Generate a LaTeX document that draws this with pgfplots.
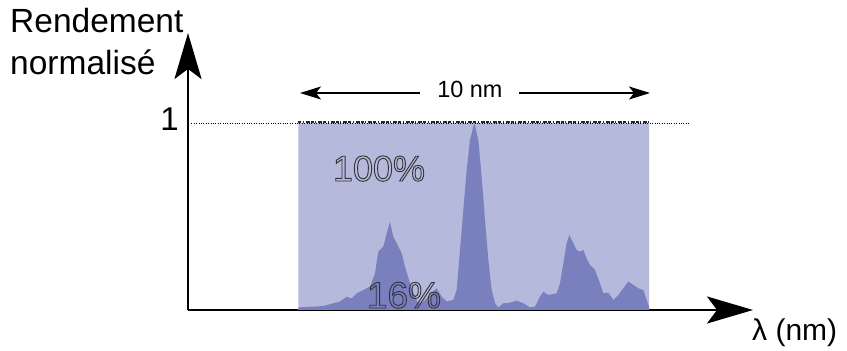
\documentclass[border=0pt]{standalone}
\usepackage{pgfplots}
\pgfplotsset{compat=1.18}
\usepackage{fontspec}
\setmainfont{Liberation Sans}
\usetikzlibrary{arrows.meta}
\definecolor{lightband}{RGB}{181,185,219}
\definecolor{darkspec}{RGB}{122,127,190}
\definecolor{outl}{RGB}{50,50,55}
\newcommand\outline[1]{\special{pdf:literal direct 1 Tr 0.9 w}#1\special{pdf:literal direct 0 Tr 1 w}}
\begin{document}
\begin{tikzpicture}
\useasboundingbox (0,0) rectangle (847pt,351pt);
\begin{axis}[
  at={(188pt,41pt)}, anchor=south west,
  scale only axis, width=565pt, height=277pt,
  xmin=-3.145, xmax=12.965, ymin=0, ymax=1.481,
  axis x line=bottom, axis y line=left,
  xtick=\empty, ytick=\empty,
  every outer x axis line/.append style={line width=2.5pt, -{Stealth[length=46pt,width=27pt,inset=10pt]}},
  every outer y axis line/.append style={line width=2.5pt, -{Stealth[length=46pt,width=27pt,inset=10pt]}},
  axis line style={line width=2.5pt},
  clip=false,
]
\addplot[fill=lightband, draw=none] coordinates {(0,0) (0,1) (10,1) (10,0)} \closedcycle;
\addplot[fill=darkspec, draw=none] coordinates {
(0.000,0.014) (0.714,0.021) (1.000,0.036) (1.189,0.045) (1.379,0.071) (1.521,0.062)
(1.664,0.089) (1.854,0.107) (2.044,0.125) (2.187,0.196) (2.282,0.312) (2.425,0.339)
(2.520,0.410) (2.615,0.472) (2.710,0.392) (2.805,0.357) (2.947,0.303) (3.042,0.232)
(3.185,0.143) (3.327,0.071) (3.423,0.036) (3.565,0.045) (3.755,0.080) (3.945,0.116)
(4.088,0.071) (4.230,0.045) (4.420,0.054) (4.516,0.107) (4.611,0.321) (4.706,0.535)
(4.801,0.749) (4.896,0.909) (5.019,1.000) (5.133,0.909) (5.228,0.713) (5.323,0.481)
(5.419,0.267) (5.514,0.107) (5.609,0.036) (5.704,0.014) (5.846,0.036) (6.036,0.039)
(6.227,0.050) (6.417,0.036) (6.607,0.014) (6.749,0.018) (6.892,0.071) (6.987,0.098)
(7.129,0.080) (7.367,0.089) (7.462,0.143) (7.557,0.250) (7.652,0.357) (7.728,0.401)
(7.842,0.357) (7.937,0.321) (8.032,0.312) (8.127,0.321) (8.222,0.276) (8.317,0.241)
(8.460,0.214) (8.603,0.143) (8.698,0.089) (8.840,0.093) (8.983,0.054) (9.125,0.080)
(9.268,0.116) (9.411,0.152) (9.553,0.134) (9.696,0.116) (9.838,0.107) (9.933,0.054)
(10.000,0.018)
} \closedcycle;
\addplot[dotted, thin, black] coordinates {(-3.05,1) (11.17,1)};
\addplot[black!85, line width=1.5pt, dash pattern=on 3pt off 1.5pt on 1pt off 2pt on 4pt off 1pt] coordinates {(0,1.005) (10,1.005)};
\end{axis}
% annotations
\draw[line width=1.6pt, -{Stealth[length=21pt,width=13pt,inset=5pt]}] (420pt,258pt) -- (300pt,258pt);
\draw[line width=1.6pt, -{Stealth[length=21pt,width=13pt,inset=5pt]}] (519pt,258pt) -- (650pt,258pt);
\node[anchor=base, inner sep=0pt, font=\fontsize{23.4}{26}\selectfont] at (470pt,253pt) {10 nm};
\node[anchor=base west, inner sep=0pt, font=\fontsize{33.5}{38}\selectfont] at (10pt,318pt) {Rendement};
\node[anchor=base west, inner sep=0pt, font=\fontsize{33.5}{38}\selectfont] at (10pt,276pt) {normalisé};
\node[anchor=base east, inner sep=0pt, font=\fontsize{33}{38}\selectfont] at (179pt,220pt) {1};
\node[anchor=base west, inner sep=0pt, font=\fontsize{30}{34}\selectfont] at (752pt,10pt) {λ (nm)};
\node[anchor=base, inner sep=0pt, text=outl, font=\fontsize{36}{40}\selectfont] at (379pt,170pt) {\outline{100\%}};
\node[anchor=base, inner sep=0pt, text=outl, font=\fontsize{37}{40}\selectfont] at (404pt,43pt) {\outline{16\%}};
\end{tikzpicture}
\end{document}
